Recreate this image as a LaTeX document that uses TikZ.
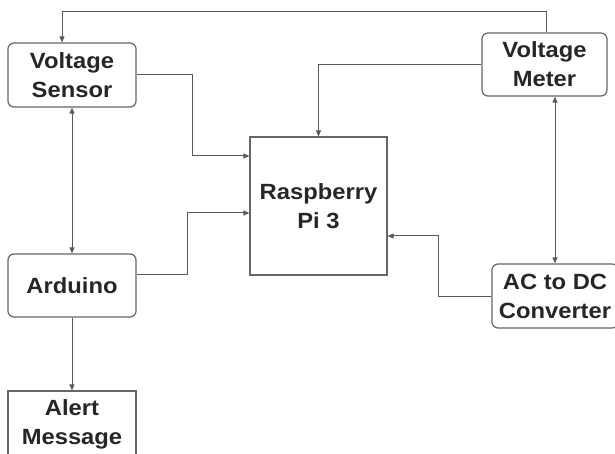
\documentclass[tikz,border=0pt]{standalone}
\usepackage{fontspec}
\setmainfont[FakeStretch=1.08]{Liberation Sans}
\usepackage{tikz}
\usetikzlibrary{arrows.meta,positioning}

\begin{document}
\begin{tikzpicture}[
  x=1pt, y=-1pt,
  font=\fontsize{22}{29}\selectfont\bfseries,
  box/.style={draw=black!60, line width=1.2pt, rounded corners=6pt, align=center, text=black!85, inner sep=0pt},
  sqbox/.style={box, rounded corners=0pt},
  arr/.style={-{Triangle[length=6pt,width=5pt]}, line width=1pt, draw=black!65},
  darr/.style={{Triangle[length=6pt,width=5pt]}-{Triangle[length=6pt,width=5pt]}, line width=1pt, draw=black!65}
]
  \useasboundingbox (0,0) rectangle (615,454);

  % left column
  \node[box, minimum width=128pt, minimum height=64pt] (vsens) at (72,75) {Voltage\\Sensor};
  \node[box, minimum width=128pt, minimum height=63pt] (arduino) at (72,285.5) {Arduino};
  \node[sqbox, minimum width=128pt, minimum height=67pt] (alert) at (72,424.5) {Alert\\Message};

  % centre
  \node[sqbox, minimum width=137pt, minimum height=138pt] (rpi) at (318.5,206) {Raspberry\\Pi 3};

  % right column
  \node[box, minimum width=125pt, minimum height=63pt] (vmeter) at (544.5,64.5) {Voltage\\Meter};
  \node[box, minimum width=126pt, minimum height=64pt] (acdc) at (555,296) {AC to DC\\Converter};

  % connectors
  \draw[arr] ([xshift=1.5pt]vmeter.north) -- ++(0,-21) -| ([xshift=-10pt]vsens.north);
  \draw[arr] (vsens.east) -- ++(56,0) |- ([yshift=50pt]rpi.west);
  \draw[arr] (vmeter.west) -| (rpi.north);
  \draw[arr] ([yshift=11pt]arduino.east) -- ++(51,0) |- ([yshift=-7pt]rpi.west);
  \draw[arr] (acdc.west) -- ++(-53,0) |- ([yshift=-30pt]rpi.east);
  \draw[darr] (vsens) -- (arduino);
  \draw[arr] (arduino) -- (alert);
  \draw[darr] ([xshift=10.5pt]vmeter.south) -- (acdc.north);
\end{tikzpicture}
\end{document}
